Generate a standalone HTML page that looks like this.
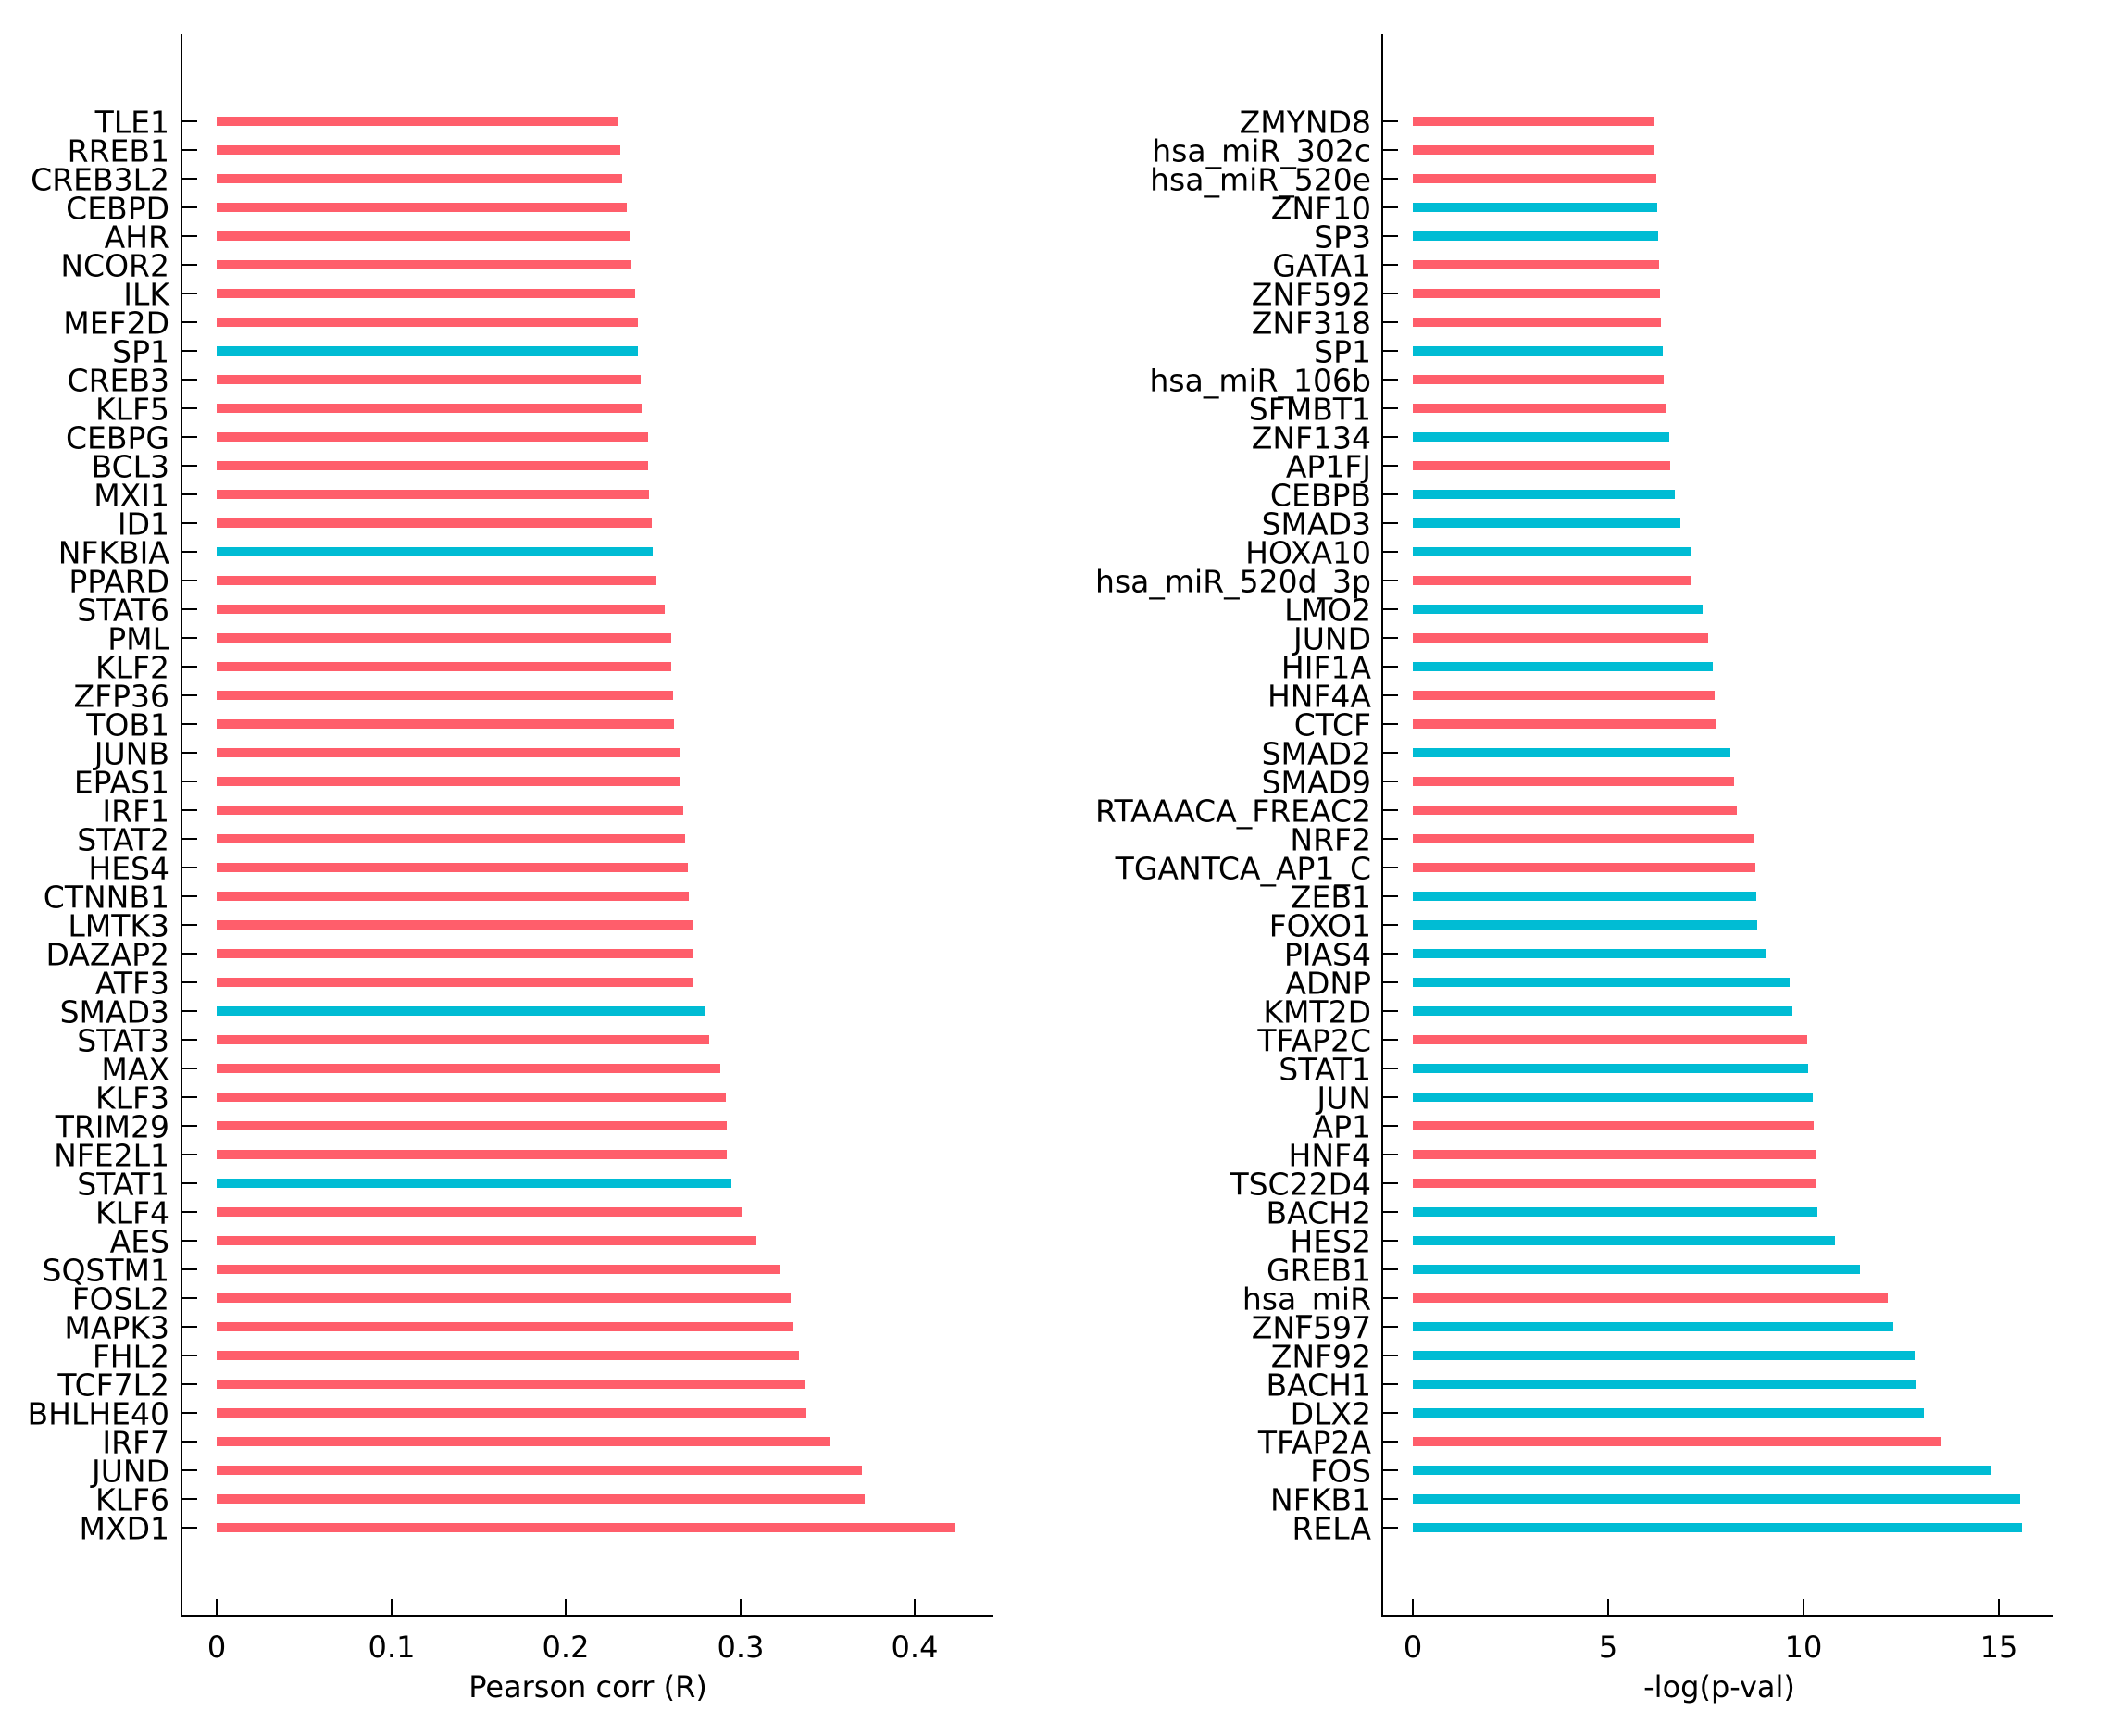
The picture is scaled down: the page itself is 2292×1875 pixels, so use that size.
<!DOCTYPE html>
<html><head><meta charset="utf-8"><style>
html,body{margin:0;padding:0;background:#fff;}
svg{display:block;}
text{font-family:"DejaVu Sans","Liberation Sans",sans-serif;font-size:32px;fill:#000;}
.l{text-anchor:end;dominant-baseline:central;font-size:33px;}
.t{text-anchor:middle;}
.r{stroke:#FF5E6B;stroke-width:10;}
.b{stroke:#00BCD4;stroke-width:10;}
.k{stroke:#000;stroke-width:2;}
</style></head><body>
<svg width="2292" height="1875" viewBox="0 0 2292 1875" xmlns="http://www.w3.org/2000/svg">
<line class="k" x1="196" y1="37" x2="196" y2="1746"/>
<line class="k" x1="195" y1="1745" x2="1073" y2="1745"/>
<g class="k">
<line x1="234" y1="1727" x2="234" y2="1745"/><line x1="423" y1="1727" x2="423" y2="1745"/><line x1="611" y1="1727" x2="611" y2="1745"/><line x1="800" y1="1727" x2="800" y2="1745"/><line x1="988" y1="1727" x2="988" y2="1745"/>
</g>
<text class="t" x="234" y="1790">0</text><text class="t" x="423" y="1790">0.1</text><text class="t" x="611" y="1790">0.2</text><text class="t" x="800" y="1790">0.3</text><text class="t" x="988" y="1790">0.4</text>
<text class="t" x="635" y="1833">Pearson corr (R)</text>
<g id="lt" class="k">
<line x1="196" x2="213" y1="131" y2="131"/><line x1="196" x2="213" y1="162" y2="162"/><line x1="196" x2="213" y1="193" y2="193"/><line x1="196" x2="213" y1="224" y2="224"/><line x1="196" x2="213" y1="255" y2="255"/><line x1="196" x2="213" y1="286" y2="286"/><line x1="196" x2="213" y1="317" y2="317"/><line x1="196" x2="213" y1="348" y2="348"/><line x1="196" x2="213" y1="379" y2="379"/><line x1="196" x2="213" y1="410" y2="410"/><line x1="196" x2="213" y1="441" y2="441"/><line x1="196" x2="213" y1="472" y2="472"/><line x1="196" x2="213" y1="503" y2="503"/><line x1="196" x2="213" y1="534" y2="534"/><line x1="196" x2="213" y1="565" y2="565"/><line x1="196" x2="213" y1="596" y2="596"/><line x1="196" x2="213" y1="627" y2="627"/><line x1="196" x2="213" y1="658" y2="658"/><line x1="196" x2="213" y1="689" y2="689"/><line x1="196" x2="213" y1="720" y2="720"/><line x1="196" x2="213" y1="751" y2="751"/><line x1="196" x2="213" y1="782" y2="782"/><line x1="196" x2="213" y1="813" y2="813"/><line x1="196" x2="213" y1="844" y2="844"/><line x1="196" x2="213" y1="875" y2="875"/><line x1="196" x2="213" y1="906" y2="906"/><line x1="196" x2="213" y1="937" y2="937"/><line x1="196" x2="213" y1="968" y2="968"/><line x1="196" x2="213" y1="999" y2="999"/><line x1="196" x2="213" y1="1030" y2="1030"/><line x1="196" x2="213" y1="1061" y2="1061"/><line x1="196" x2="213" y1="1092" y2="1092"/><line x1="196" x2="213" y1="1123" y2="1123"/><line x1="196" x2="213" y1="1154" y2="1154"/><line x1="196" x2="213" y1="1185" y2="1185"/><line x1="196" x2="213" y1="1216" y2="1216"/><line x1="196" x2="213" y1="1247" y2="1247"/><line x1="196" x2="213" y1="1278" y2="1278"/><line x1="196" x2="213" y1="1309" y2="1309"/><line x1="196" x2="213" y1="1340" y2="1340"/><line x1="196" x2="213" y1="1371" y2="1371"/><line x1="196" x2="213" y1="1402" y2="1402"/><line x1="196" x2="213" y1="1433" y2="1433"/><line x1="196" x2="213" y1="1464" y2="1464"/><line x1="196" x2="213" y1="1495" y2="1495"/><line x1="196" x2="213" y1="1526" y2="1526"/><line x1="196" x2="213" y1="1557" y2="1557"/><line x1="196" x2="213" y1="1588" y2="1588"/><line x1="196" x2="213" y1="1619" y2="1619"/><line x1="196" x2="213" y1="1650" y2="1650"/>
</g>
<line class="r" x1="234" x2="667" y1="131" y2="131"/>
<line class="r" x1="234" x2="670" y1="162" y2="162"/>
<line class="r" x1="234" x2="672" y1="193" y2="193"/>
<line class="r" x1="234" x2="677" y1="224" y2="224"/>
<line class="r" x1="234" x2="680" y1="255" y2="255"/>
<line class="r" x1="234" x2="682" y1="286" y2="286"/>
<line class="r" x1="234" x2="686" y1="317" y2="317"/>
<line class="r" x1="234" x2="689" y1="348" y2="348"/>
<line class="b" x1="234" x2="689" y1="379" y2="379"/>
<line class="r" x1="234" x2="692" y1="410" y2="410"/>
<line class="r" x1="234" x2="693" y1="441" y2="441"/>
<line class="r" x1="234" x2="700" y1="472" y2="472"/>
<line class="r" x1="234" x2="700" y1="503" y2="503"/>
<line class="r" x1="234" x2="701" y1="534" y2="534"/>
<line class="r" x1="234" x2="704" y1="565" y2="565"/>
<line class="b" x1="234" x2="705" y1="596" y2="596"/>
<line class="r" x1="234" x2="709" y1="627" y2="627"/>
<line class="r" x1="234" x2="718" y1="658" y2="658"/>
<line class="r" x1="234" x2="725" y1="689" y2="689"/>
<line class="r" x1="234" x2="725" y1="720" y2="720"/>
<line class="r" x1="234" x2="727" y1="751" y2="751"/>
<line class="r" x1="234" x2="728" y1="782" y2="782"/>
<line class="r" x1="234" x2="734" y1="813" y2="813"/>
<line class="r" x1="234" x2="734" y1="844" y2="844"/>
<line class="r" x1="234" x2="738" y1="875" y2="875"/>
<line class="r" x1="234" x2="740" y1="906" y2="906"/>
<line class="r" x1="234" x2="743" y1="937" y2="937"/>
<line class="r" x1="234" x2="744" y1="968" y2="968"/>
<line class="r" x1="234" x2="748" y1="999" y2="999"/>
<line class="r" x1="234" x2="748" y1="1030" y2="1030"/>
<line class="r" x1="234" x2="749" y1="1061" y2="1061"/>
<line class="b" x1="234" x2="762" y1="1092" y2="1092"/>
<line class="r" x1="234" x2="766" y1="1123" y2="1123"/>
<line class="r" x1="234" x2="778" y1="1154" y2="1154"/>
<line class="r" x1="234" x2="784" y1="1185" y2="1185"/>
<line class="r" x1="234" x2="785" y1="1216" y2="1216"/>
<line class="r" x1="234" x2="785" y1="1247" y2="1247"/>
<line class="b" x1="234" x2="790" y1="1278" y2="1278"/>
<line class="r" x1="234" x2="801" y1="1309" y2="1309"/>
<line class="r" x1="234" x2="817" y1="1340" y2="1340"/>
<line class="r" x1="234" x2="842" y1="1371" y2="1371"/>
<line class="r" x1="234" x2="854" y1="1402" y2="1402"/>
<line class="r" x1="234" x2="857" y1="1433" y2="1433"/>
<line class="r" x1="234" x2="863" y1="1464" y2="1464"/>
<line class="r" x1="234" x2="869" y1="1495" y2="1495"/>
<line class="r" x1="234" x2="871" y1="1526" y2="1526"/>
<line class="r" x1="234" x2="896" y1="1557" y2="1557"/>
<line class="r" x1="234" x2="931" y1="1588" y2="1588"/>
<line class="r" x1="234" x2="934" y1="1619" y2="1619"/>
<line class="r" x1="234" x2="1031" y1="1650" y2="1650"/>
<g>
<text class="l" x="183" y="132">TLE1</text>
<text class="l" x="183" y="163">RREB1</text>
<text class="l" x="183" y="194">CREB3L2</text>
<text class="l" x="183" y="225">CEBPD</text>
<text class="l" x="183" y="256">AHR</text>
<text class="l" x="183" y="287">NCOR2</text>
<text class="l" x="183" y="318">ILK</text>
<text class="l" x="183" y="349">MEF2D</text>
<text class="l" x="183" y="380">SP1</text>
<text class="l" x="183" y="411">CREB3</text>
<text class="l" x="183" y="442">KLF5</text>
<text class="l" x="183" y="473">CEBPG</text>
<text class="l" x="183" y="504">BCL3</text>
<text class="l" x="183" y="535">MXI1</text>
<text class="l" x="183" y="566">ID1</text>
<text class="l" x="183" y="597">NFKBIA</text>
<text class="l" x="183" y="628">PPARD</text>
<text class="l" x="183" y="659">STAT6</text>
<text class="l" x="183" y="690">PML</text>
<text class="l" x="183" y="721">KLF2</text>
<text class="l" x="183" y="752">ZFP36</text>
<text class="l" x="183" y="783">TOB1</text>
<text class="l" x="183" y="814">JUNB</text>
<text class="l" x="183" y="845">EPAS1</text>
<text class="l" x="183" y="876">IRF1</text>
<text class="l" x="183" y="907">STAT2</text>
<text class="l" x="183" y="938">HES4</text>
<text class="l" x="183" y="969">CTNNB1</text>
<text class="l" x="183" y="1000">LMTK3</text>
<text class="l" x="183" y="1031">DAZAP2</text>
<text class="l" x="183" y="1062">ATF3</text>
<text class="l" x="183" y="1093">SMAD3</text>
<text class="l" x="183" y="1124">STAT3</text>
<text class="l" x="183" y="1155">MAX</text>
<text class="l" x="183" y="1186">KLF3</text>
<text class="l" x="183" y="1217">TRIM29</text>
<text class="l" x="183" y="1248">NFE2L1</text>
<text class="l" x="183" y="1279">STAT1</text>
<text class="l" x="183" y="1310">KLF4</text>
<text class="l" x="183" y="1341">AES</text>
<text class="l" x="183" y="1372">SQSTM1</text>
<text class="l" x="183" y="1403">FOSL2</text>
<text class="l" x="183" y="1434">MAPK3</text>
<text class="l" x="183" y="1465">FHL2</text>
<text class="l" x="183" y="1496">TCF7L2</text>
<text class="l" x="183" y="1527">BHLHE40</text>
<text class="l" x="183" y="1558">IRF7</text>
<text class="l" x="183" y="1589">JUND</text>
<text class="l" x="183" y="1620">KLF6</text>
<text class="l" x="183" y="1651">MXD1</text>
</g>
<line class="k" x1="1493" y1="37" x2="1493" y2="1746"/>
<line class="k" x1="1492" y1="1745" x2="2217" y2="1745"/>
<g class="k">
<line x1="1526" y1="1727" x2="1526" y2="1745"/><line x1="1737" y1="1727" x2="1737" y2="1745"/><line x1="1948" y1="1727" x2="1948" y2="1745"/><line x1="2159" y1="1727" x2="2159" y2="1745"/>
</g>
<text class="t" x="1526" y="1790">0</text><text class="t" x="1737" y="1790">5</text><text class="t" x="1948" y="1790">10</text><text class="t" x="2159" y="1790">15</text>
<text class="t" x="1857" y="1833">-log(p-val)</text>
<use href="#lt" x="1297"/>
<line class="r" x1="1526" x2="1787" y1="131" y2="131"/>
<line class="r" x1="1526" x2="1787" y1="162" y2="162"/>
<line class="r" x1="1526" x2="1789" y1="193" y2="193"/>
<line class="b" x1="1526" x2="1790" y1="224" y2="224"/>
<line class="b" x1="1526" x2="1791" y1="255" y2="255"/>
<line class="r" x1="1526" x2="1792" y1="286" y2="286"/>
<line class="r" x1="1526" x2="1793" y1="317" y2="317"/>
<line class="r" x1="1526" x2="1794" y1="348" y2="348"/>
<line class="b" x1="1526" x2="1796" y1="379" y2="379"/>
<line class="r" x1="1526" x2="1797" y1="410" y2="410"/>
<line class="r" x1="1526" x2="1799" y1="441" y2="441"/>
<line class="b" x1="1526" x2="1803" y1="472" y2="472"/>
<line class="r" x1="1526" x2="1804" y1="503" y2="503"/>
<line class="b" x1="1526" x2="1809" y1="534" y2="534"/>
<line class="b" x1="1526" x2="1815" y1="565" y2="565"/>
<line class="b" x1="1526" x2="1827" y1="596" y2="596"/>
<line class="r" x1="1526" x2="1827" y1="627" y2="627"/>
<line class="b" x1="1526" x2="1839" y1="658" y2="658"/>
<line class="r" x1="1526" x2="1845" y1="689" y2="689"/>
<line class="b" x1="1526" x2="1850" y1="720" y2="720"/>
<line class="r" x1="1526" x2="1852" y1="751" y2="751"/>
<line class="r" x1="1526" x2="1853" y1="782" y2="782"/>
<line class="b" x1="1526" x2="1869" y1="813" y2="813"/>
<line class="r" x1="1526" x2="1873" y1="844" y2="844"/>
<line class="r" x1="1526" x2="1876" y1="875" y2="875"/>
<line class="r" x1="1526" x2="1895" y1="906" y2="906"/>
<line class="r" x1="1526" x2="1896" y1="937" y2="937"/>
<line class="b" x1="1526" x2="1897" y1="968" y2="968"/>
<line class="b" x1="1526" x2="1898" y1="999" y2="999"/>
<line class="b" x1="1526" x2="1907" y1="1030" y2="1030"/>
<line class="b" x1="1526" x2="1933" y1="1061" y2="1061"/>
<line class="b" x1="1526" x2="1936" y1="1092" y2="1092"/>
<line class="r" x1="1526" x2="1952" y1="1123" y2="1123"/>
<line class="b" x1="1526" x2="1953" y1="1154" y2="1154"/>
<line class="b" x1="1526" x2="1958" y1="1185" y2="1185"/>
<line class="r" x1="1526" x2="1959" y1="1216" y2="1216"/>
<line class="r" x1="1526" x2="1961" y1="1247" y2="1247"/>
<line class="r" x1="1526" x2="1961" y1="1278" y2="1278"/>
<line class="b" x1="1526" x2="1963" y1="1309" y2="1309"/>
<line class="b" x1="1526" x2="1982" y1="1340" y2="1340"/>
<line class="b" x1="1526" x2="2009" y1="1371" y2="1371"/>
<line class="r" x1="1526" x2="2039" y1="1402" y2="1402"/>
<line class="b" x1="1526" x2="2045" y1="1433" y2="1433"/>
<line class="b" x1="1526" x2="2068" y1="1464" y2="1464"/>
<line class="b" x1="1526" x2="2069" y1="1495" y2="1495"/>
<line class="b" x1="1526" x2="2078" y1="1526" y2="1526"/>
<line class="r" x1="1526" x2="2097" y1="1557" y2="1557"/>
<line class="b" x1="1526" x2="2150" y1="1588" y2="1588"/>
<line class="b" x1="1526" x2="2182" y1="1619" y2="1619"/>
<line class="b" x1="1526" x2="2184" y1="1650" y2="1650"/>
<g>
<text class="l" x="1481" y="132">ZMYND8</text>
<text class="l" x="1481" y="163">hsa_miR_302c</text>
<text class="l" x="1481" y="194">hsa_miR_520e</text>
<text class="l" x="1481" y="225">ZNF10</text>
<text class="l" x="1481" y="256">SP3</text>
<text class="l" x="1481" y="287">GATA1</text>
<text class="l" x="1481" y="318">ZNF592</text>
<text class="l" x="1481" y="349">ZNF318</text>
<text class="l" x="1481" y="380">SP1</text>
<text class="l" x="1481" y="411">hsa_miR_106b</text>
<text class="l" x="1481" y="442">SFMBT1</text>
<text class="l" x="1481" y="473">ZNF134</text>
<text class="l" x="1481" y="504">AP1FJ</text>
<text class="l" x="1481" y="535">CEBPB</text>
<text class="l" x="1481" y="566">SMAD3</text>
<text class="l" x="1481" y="597">HOXA10</text>
<text class="l" x="1481" y="628">hsa_miR_520d_3p</text>
<text class="l" x="1481" y="659">LMO2</text>
<text class="l" x="1481" y="690">JUND</text>
<text class="l" x="1481" y="721">HIF1A</text>
<text class="l" x="1481" y="752">HNF4A</text>
<text class="l" x="1481" y="783">CTCF</text>
<text class="l" x="1481" y="814">SMAD2</text>
<text class="l" x="1481" y="845">SMAD9</text>
<text class="l" x="1481" y="876">RTAAACA_FREAC2</text>
<text class="l" x="1481" y="907">NRF2</text>
<text class="l" x="1481" y="938">TGANTCA_AP1_C</text>
<text class="l" x="1481" y="969">ZEB1</text>
<text class="l" x="1481" y="1000">FOXO1</text>
<text class="l" x="1481" y="1031">PIAS4</text>
<text class="l" x="1481" y="1062">ADNP</text>
<text class="l" x="1481" y="1093">KMT2D</text>
<text class="l" x="1481" y="1124">TFAP2C</text>
<text class="l" x="1481" y="1155">STAT1</text>
<text class="l" x="1481" y="1186">JUN</text>
<text class="l" x="1481" y="1217">AP1</text>
<text class="l" x="1481" y="1248">HNF4</text>
<text class="l" x="1481" y="1279">TSC22D4</text>
<text class="l" x="1481" y="1310">BACH2</text>
<text class="l" x="1481" y="1341">HES2</text>
<text class="l" x="1481" y="1372">GREB1</text>
<text class="l" x="1481" y="1403">hsa_miR</text>
<text class="l" x="1481" y="1434">ZNF597</text>
<text class="l" x="1481" y="1465">ZNF92</text>
<text class="l" x="1481" y="1496">BACH1</text>
<text class="l" x="1481" y="1527">DLX2</text>
<text class="l" x="1481" y="1558">TFAP2A</text>
<text class="l" x="1481" y="1589">FOS</text>
<text class="l" x="1481" y="1620">NFKB1</text>
<text class="l" x="1481" y="1651">RELA</text>
</g>
</svg>
</body></html>
